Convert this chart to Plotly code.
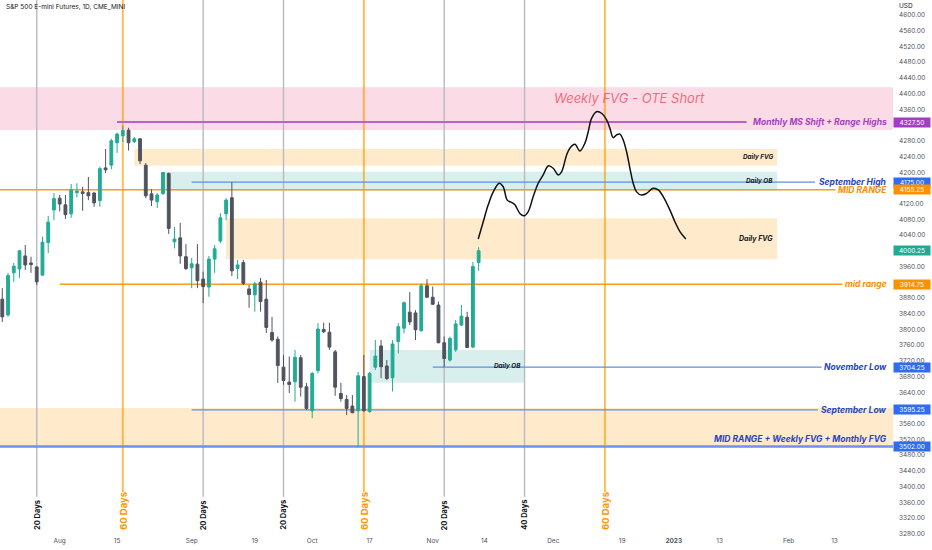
import plotly.graph_objects as go

# -- Velas diarias ES (indice de sesion: 0 = 18 jul 2022)
open_ = [3877, 3837, 3944, 3954, 3987, 3969, 3959, 3938, 4021, 4104,
         4134, 4117, 4094, 4148, 4150, 4148, 4147, 4128, 4211, 4218,
         4275, 4293, 4307, 4278, 4285, 4218, 4145, 4125, 4146, 4197,
         4023, 4033, 3985, 3957, 3966, 3928, 3908, 3979, 4025, 4094,
         4135, 3955, 3970, 3903, 3888, 3920, 3877, 3792, 3775, 3704,
         3666, 3667, 3728, 3654, 3593, 3695, 3800, 3793, 3743, 3637,
         3622, 3605, 3593, 3680, 3591, 3704, 3758, 3707, 3677, 3769,
         3803, 3844, 3842, 3797, 3911, 3882, 3862, 3766, 3722, 3748,
         3811, 3831, 3755, 3970]
high = [3905, 3944, 3969, 4002, 4015, 3985, 3960, 4036, 4089, 4147,
        4142, 4142, 4170, 4172, 4163, 4188, 4150, 4214, 4259, 4285,
        4301, 4318, 4313, 4290, 4287, 4223, 4157, 4147, 4201, 4199,
        4061, 4071, 4017, 3982, 4017, 3947, 3987, 4015, 4096, 4134,
        4175, 3977, 3977, 3913, 3921, 3931, 3926, 3832, 3782, 3735,
        3731, 3748, 3735, 3664, 3692, 3816, 3817, 3817, 3748, 3664,
        3633, 3633, 3692, 3735, 3692, 3773, 3773, 3722, 3773, 3816,
        3871, 3895, 3849, 3917, 3928, 3909, 3871, 3782, 3782, 3824,
        3862, 3845, 3972, 4009]
low = [3819, 3832, 3921, 3931, 3951, 3944, 3913, 3937, 3994, 4078,
       4100, 4081, 4084, 4136, 4102, 4129, 4112, 4112, 4198, 4207,
       4249, 4277, 4255, 4274, 4221, 4134, 4114, 4109, 4142, 4043,
       4006, 3967, 3951, 3905, 3905, 3867, 3883, 3944, 4020, 4078,
       3936, 3928, 3913, 3855, 3845, 3845, 3791, 3769, 3664, 3659,
       3638, 3616, 3629, 3595.25, 3574, 3688, 3791, 3748, 3631, 3616,
       3582, 3587, 3502, 3591, 3588, 3697, 3676, 3671, 3642, 3739,
       3790, 3811, 3773, 3794, 3880, 3862, 3765, 3704.25, 3718, 3743,
       3809, 3752, 3752, 3949]
close = [3832, 3937, 3961, 4000, 3964, 3965, 3921, 4022, 4073, 4133,
         4119, 4092, 4155, 4152, 4146, 4140, 4122, 4209, 4206, 4280,
         4297, 4306, 4275, 4285, 4229, 4140, 4129, 4142, 4199, 4057,
         4030, 3987, 3955, 3967, 3924, 3909, 3979, 4005, 4084, 4129,
         3949, 3964, 3917, 3889, 3916, 3871, 3805, 3773, 3708, 3670,
         3660, 3729, 3653, 3599, 3688, 3801, 3794, 3755, 3653, 3624,
         3599, 3588, 3682, 3593, 3688, 3732, 3705, 3675, 3763, 3807,
         3868, 3819, 3799, 3911, 3882, 3864, 3766, 3726, 3777, 3814,
         3834, 3754, 3960, 4000.25]
bar_idx = list(range(len(close)))

# -- Eje de tiempo
tick_idx = [0, 10, 20, 33, 44, 54, 64, 75, 84, 96, 108, 117, 125, 137, 145]
tick_txt = ['18', 'Aug', '15', 'Sep', '19', 'Oct', '17', 'Nov', '14', 'Dec',
            '19', '<b>2023</b>', '13', 'Feb', '13']

# -- Lineas verticales de conteo de dias
day_idx = [6, 21, 35, 49, 63, 77, 91, 105]
day_txt = ['20 Days', '60 Days', '20 Days', '20 Days', '60 Days', '20 Days', '40 Days', '60 Days']

# -- Niveles horizontales
lvl_price = [4327.5, 4175.0, 4155.25, 3914.75, 3704.25, 3595.25, 3502.0]
lvl_start = [20, 33, -0.4, 10, 75, 33, -0.4]
lvl_end = [129.7, 141.6, 145.2, 146.4, 142.75, 142.1, 155.2]
lvl_label = ['Monthly MS Shift + Range Highs', 'September High', 'MID RANGE', 'mid range',
             'November Low', 'September Low', 'MID RANGE + Weekly FVG + Monthly FVG']
lvl_kind = ['purple', 'blue', 'orange', 'orange', 'blue', 'blue', 'blue2']

# -- Zonas (FVG / OB)
zone_x0 = [-0.4, 23, 28, 39, 64, -0.4]
zone_x1 = [155.2, 135, 135, 135, 91, 155.2]
zone_lo = [4307.4, 4216.6, 4152.0, 3978.4, 3664.4, 3502.0]
zone_hi = [4416.0, 4259.0, 4201.5, 4082.7, 3747.6, 3600.0]
zone_kind = ['pink', 'fvg', 'ob', 'fvg', 'ob', 'fvg']
zone_label = ['', 'Daily FVG', 'Daily OB', 'Daily FVG', 'Daily OB', '']

# -- Trayectoria proyectada (dibujo a mano)
path_idx = [82.93, 83.8, 84.67, 85.54, 86.59, 87.28, 87.98, 88.74, 89.32, 90.19,
            90.89, 91.64, 92.51, 93.38, 94.25, 95.12, 95.99, 96.86, 97.45, 98.33,
            98.9, 99.77, 100.64, 101.52, 102.09, 102.68, 103.55, 104.42, 105.3, 105.87,
            106.45, 107.04, 107.61, 108.19, 108.78, 109.36, 109.93, 110.52, 111.39, 112.26,
            113.41, 114.29, 115.16, 116.32, 117.2, 118.07, 119.1]
path_px = [4030, 4074, 4117, 4150, 4172, 4163, 4129, 4123, 4117, 4095,
           4089, 4100, 4138, 4172, 4193, 4216, 4210, 4193, 4201, 4244,
           4261, 4271, 4254, 4274, 4303, 4337, 4354, 4350, 4333, 4312,
           4288, 4295, 4297, 4282, 4252, 4210, 4172, 4150, 4142, 4146,
           4159, 4155, 4138, 4104, 4074, 4049, 4030]

last_price = 4000.25

colores = {
    'purple': dict(line='#bd5fcc', text='#a33fc2', tag='#a040c0', w=2),
    'blue': dict(line='#5d8fe4', text='#2743c4', tag='#2f6cf0', w=1.3),
    'blue2': dict(line='#6f8ff2', text='#2743c4', tag='#2f6cf0', w=2.5),
    'orange': dict(line='#ff9a1f', text='#ff8c00', tag='#ff9100', w=1.6),
}
zona_color = {'pink': 'rgba(244,160,190,0.38)', 'fvg': 'rgba(255,167,38,0.24)',
              'ob': 'rgba(38,166,154,0.18)'}

fuente = 'Inter, Roboto, sans-serif'

fig = go.Figure()

fig.add_trace(go.Candlestick(x=bar_idx, open=open_, high=high, low=low, close=close,
                             increasing=dict(line=dict(color='#22ab94', width=1), fillcolor='#22ab94'),
                             decreasing=dict(line=dict(color='#50535e', width=1), fillcolor='#50535e'),
                             whiskerwidth=0, hoverinfo='skip', showlegend=False))

fig.add_trace(go.Scatter(x=path_idx, y=path_px, mode='lines',
                         line=dict(color='#111111', width=1.5, shape='spline', smoothing=1.0),
                         hoverinfo='skip', showlegend=False))

shapes = []
annots = []

# zonas
for x0, x1, lo, hi, k, lab in zip(zone_x0, zone_x1, zone_lo, zone_hi, zone_kind, zone_label):
    shapes.append(dict(type='rect', xref='x', yref='y', x0=x0, x1=x1, y0=lo, y1=hi,
                       fillcolor=zona_color[k], line=dict(width=0), layer='below'))
    if lab:
        size = 7 if (k == 'fvg' and hi - lo > 80) else 6.3
        annots.append(dict(x=x1, y=(lo + hi) / 2, xref='x', yref='y', xanchor='right', xshift=-2,
                           text='<b><i>' + lab + '</i></b>', showarrow=False,
                           font=dict(size=size, color='#131722', family=fuente)))

# lineas verticales
for xi, txt in zip(day_idx, day_txt):
    naranja = txt.startswith('60')
    shapes.append(dict(type='line', xref='x', yref='y', x0=xi, x1=xi, y0=4640,
                       y1=3386 if naranja else 3374,
                       line=dict(color='rgba(255,152,0,0.65)' if naranja else '#b8bac2',
                                 width=2 if naranja else 1.4), layer='below'))
    annots.append(dict(x=xi, y=3284, xref='x', yref='y', yanchor='bottom', textangle=-90,
                       text='<b>' + txt + '</b>', showarrow=False,
                       font=dict(size=9.5 if naranja else 7.5, color='#ff9800' if naranja else '#131722',
                                 family=fuente)))

# niveles horizontales
for p, x0, x1, lab, k in zip(lvl_price, lvl_start, lvl_end, lvl_label, lvl_kind):
    c = colores[k]
    shapes.append(dict(type='line', xref='x', yref='y', x0=x0, x1=x1, y0=p, y1=p,
                       line=dict(color=c['line'], width=c['w']), layer='below'))
    annots.append(dict(x=154.5, y=p, xref='x', yref='y', xanchor='right',
                       yshift=8 if k == 'blue2' else 0,
                       text='<b><i>' + lab + '</i></b>', showarrow=False,
                       font=dict(size=8.5, color=c['text'], family=fuente)))
    annots.append(dict(x=1, y=p, xref='paper', yref='y', xanchor='left', width=36, height=9,
                       text='%.2f' % p, showarrow=False, bgcolor=c['tag'], borderpad=0,
                       font=dict(size=6.5, color='white', family=fuente)))

# precio actual
annots.append(dict(x=1, y=last_price, xref='paper', yref='y', xanchor='left', width=36, height=9,
                   text='%.2f' % last_price, showarrow=False, bgcolor='#22ab94', borderpad=0,
                   font=dict(size=6.5, color='white', family=fuente)))

# textos sueltos
annots.append(dict(x=109.2, y=4390, xref='x', yref='y', text='<i>Weekly FVG - OTE Short</i>',
                   showarrow=False, font=dict(size=13, color='rgba(240,85,105,0.85)', family=fuente)))
annots.append(dict(x=0, y=1, xref='paper', yref='paper', xanchor='left', yanchor='middle',
                   xshift=4, yshift=-7, text='S&P 500 E-mini Futures, 1D, CME_MINI', showarrow=False,
                   font=dict(size=6.5, color='#131722', family=fuente)))
annots.append(dict(x=1, y=1, xref='paper', yref='paper', xanchor='left', yanchor='middle',
                   xshift=4, yshift=-6, text='USD', showarrow=False,
                   font=dict(size=6.5, color='#131722', family=fuente)))

fig.update_layout(width=932, height=550, margin=dict(l=0, r=39, t=0, b=15, pad=0, autoexpand=False),
                  paper_bgcolor='white', plot_bgcolor='white', showlegend=False,
                  shapes=shapes, annotations=annots,
                  font=dict(family=fuente, size=6.5, color='#50535e'))

fig.update_xaxes(range=[-0.4, 155.2], tickvals=tick_idx, ticktext=tick_txt, showgrid=False,
                 zeroline=False, showline=False, ticks='', rangeslider_visible=False,
                 automargin=False, tickfont=dict(size=6.5, color='#50535e'))
fig.update_yaxes(range=[3276.9, 4638.2], side='right', dtick=40, tick0=0, tickformat='.2f',
                 showgrid=False, zeroline=False, showline=False, ticks='', ticklabelstandoff=5,
                 automargin=False, tickfont=dict(size=6.5, color='#50535e'))

# quitar el margen por defecto del body para que la figura ocupe la ventana
fig.write_html("out.html", config={'displayModeBar': False},
               post_script="document.body.style.margin='0';")
